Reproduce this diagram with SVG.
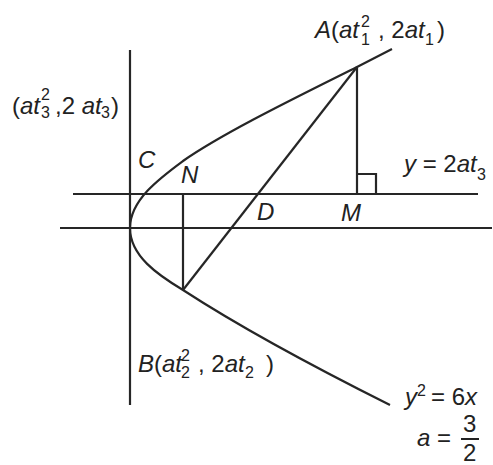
<svg xmlns="http://www.w3.org/2000/svg" width="493" height="465" viewBox="0 0 493 465">
<style>
.ln{stroke:#262626;stroke-width:2.2;fill:none;stroke-linecap:butt}
text{font-family:"Liberation Sans",Arial,sans-serif;fill:#222;font-size:24px}
.i{font-style:italic}
.s{font-size:16px}
</style>
<rect width="493" height="465" fill="#ffffff"/>
<g id="connectors">
<line class="ln" x1="130" y1="50" x2="130" y2="405"/>
<line class="ln" x1="60" y1="228" x2="492" y2="228"/>
<line class="ln" x1="73" y1="194" x2="478" y2="194"/>
<path class="ln" d="M392,49 L357,67 C297,97 223,133 183,161 C160,178 130,200 130,228 C130,256 158,275 183,290 C243,329 320,370 390,405"/>
<line class="ln" x1="357" y1="67" x2="183" y2="290"/>
<line class="ln" x1="357" y1="67" x2="357" y2="194"/>
<polyline class="ln" points="357,174 376,174 376,194"/>
<line class="ln" x1="183" y1="194" x2="183" y2="290"/>
</g>
<g id="A">
<text x="315" y="38"><tspan class="i">A</tspan>(<tspan class="i">at</tspan></text>
<text class="s" x="361" y="27">2</text>
<text class="s" x="361" y="45">1</text>
<text x="378" y="38">, 2<tspan class="i">at</tspan></text>
<text class="s" x="425" y="45">1</text>
<text x="437" y="38">)</text>
</g>
<g id="P3">
<text x="12" y="114">(<tspan class="i">at</tspan></text>
<text class="s" x="41" y="100">2</text>
<text class="s" x="41" y="118">3</text>
<text x="55" y="114">,2 <tspan class="i">at</tspan></text>
<text class="s" x="101" y="118">3</text>
<text x="111" y="114">)</text>
</g>
<g id="line-label">
<text x="404" y="172"><tspan class="i">y</tspan> = 2<tspan class="i">at</tspan></text>
<text class="s" x="477" y="180">3</text>
</g>
<g id="C"><text class="i" x="138" y="168">C</text></g>
<g id="N"><text class="i" x="181" y="183">N</text></g>
<g id="D"><text class="i" x="257" y="220">D</text></g>
<g id="M"><text class="i" x="341" y="221">M</text></g>
<g id="B">
<text x="138" y="372"><tspan class="i">B</tspan>(<tspan class="i">at</tspan></text>
<text class="s" x="181" y="361">2</text>
<text class="s" x="181" y="378">2</text>
<text x="198" y="372">, 2<tspan class="i">at</tspan></text>
<text class="s" x="245" y="378">2</text>
<text x="266" y="372">)</text>
</g>
<g id="eq">
<text x="405" y="405"><tspan class="i">y</tspan></text>
<text class="s" x="417" y="396">2</text>
<text x="431" y="405">= 6<tspan class="i">x</tspan></text>
<text x="417" y="446"><tspan class="i">a</tspan> =</text>
<text x="463" y="432">3</text>
<line x1="461" y1="439" x2="479" y2="439" stroke="#222" stroke-width="2"/>
<text x="463" y="461">2</text>
</g>
</svg>
